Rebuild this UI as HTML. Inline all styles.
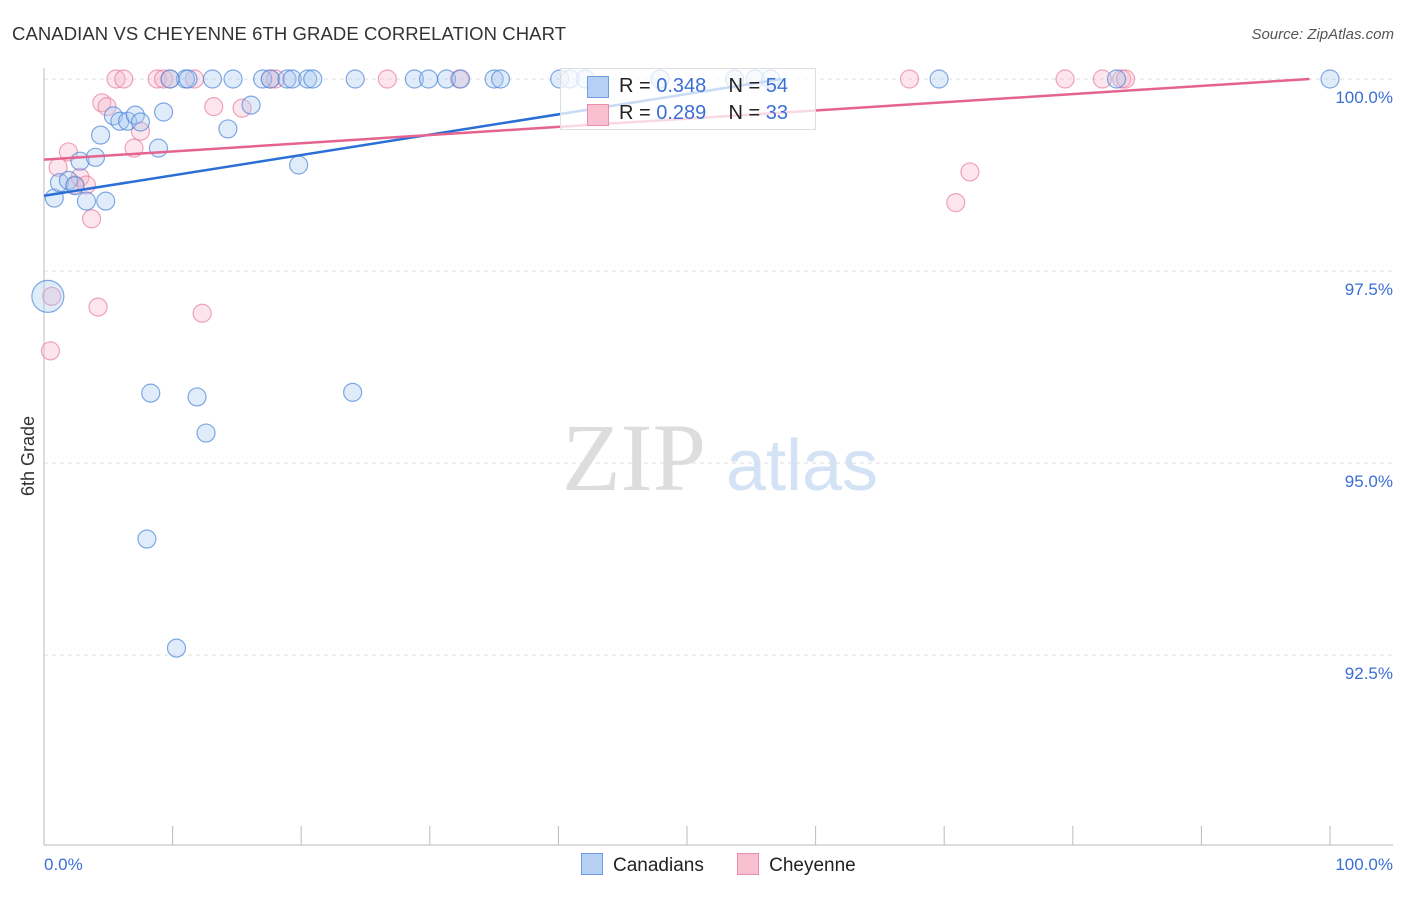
<!DOCTYPE html>
<html><head><meta charset="utf-8"><style>
body{margin:0;background:#fff;font-family:"Liberation Sans",sans-serif}
</style></head><body>
<svg id="c" width="1406" height="892" xmlns="http://www.w3.org/2000/svg">
<text x="12" y="40" font-size="18.5" fill="#333" textLength="554">CANADIAN VS CHEYENNE 6TH GRADE CORRELATION CHART</text>
<text x="1394" y="39" font-size="15" font-style="italic" fill="#555" text-anchor="end">Source: ZipAtlas.com</text>
<text x="634" y="490" font-size="96" font-family="Liberation Serif,serif" fill="#ddd" text-anchor="middle">ZIP</text>
<text x="802" y="490" font-size="72" fill="#d3e2f5" text-anchor="middle">atlas</text>
<text transform="translate(34,456) rotate(-90)" font-size="18" fill="#333" text-anchor="middle">6th Grade</text>
<g id="grid"></g><g id="marks"></g>
</svg>
<script>
const blueX=[0.8,1.2,1.9,2.8,3.3,4.0,4.4,4.8,5.4,5.9,6.5,7.1,7.5,9.3,8.9,8.3,11.9,12.6,8.0,10.3,14.3,16.1,19.8,24.0,0.3,11.0,11.2,13.1,14.7,17.0,17.6,18.9,19.3,20.5,20.9,24.2,28.8,29.9,31.3,32.4,35.0,35.5,40.1,40.9,42.1,47.9,53.7,55.3,56.5,69.6,83.4,100,9.8,2.4];
const blueY=[98.45,98.65,98.68,98.93,98.41,98.98,99.27,98.41,99.52,99.45,99.45,99.53,99.44,99.57,99.10,95.91,95.86,95.39,94.01,92.59,99.35,99.66,98.88,95.92,97.17,100,100,100,100,100,100,100,100,100,100,100,100,100,100,100,100,100,100,100,100,100,100,100,100,100,100,100,100,98.61];
const pinkX=[0.5,0.6,1.1,1.9,2.4,2.8,3.3,3.7,4.2,4.5,4.9,5.6,6.2,7.0,7.5,8.8,9.3,9.8,11.7,13.2,12.3,15.4,17.6,18.0,26.7,32.3,67.3,70.9,72.0,79.4,82.3,83.8,84.1];
const pinkY=[96.46,97.17,98.85,99.05,98.62,98.72,98.62,98.18,97.03,99.69,99.64,100,100,99.10,99.32,100,100,100,100,99.64,96.95,99.62,100,100,100,100,100,98.39,98.79,100,100,100,100];
const blueLine=[98.48,0.0265], pinkLine=[98.95,0.01067];
const yTicks=[100,97.5,95,92.5], yTickLabels=["100.0%","97.5%","95.0%","92.5%"];
const xAx=v=>44+v*12.86, yAx=v=>79+(100-v)*76.8;
const NS="http://www.w3.org/2000/svg";
function mk(t,a,p){const e=document.createElementNS(NS,t);for(const k in a)e.setAttribute(k,a[k]);p.appendChild(e);return e;}
const g=document.getElementById('grid'), m=document.getElementById('marks');
yTicks.forEach((t,i)=>{
 const l=mk('line',{x1:44,x2:1393,y1:yAx(t),y2:yAx(t),stroke:'#ddd','stroke-dasharray':'4,4'},g);
 
 
 const tx=mk('text',{x:1393,y:yAx(t)+24,'font-size':17,fill:'#3b6fd4','text-anchor':'end'},g);
 tx.textContent=yTickLabels[i];
 
 
});
const ax=mk('line',{x1:44,x2:44,y1:68,y2:845,stroke:'#bbb'},g);


const bx=mk('line',{x1:44,x2:1393,y1:845,y2:845,stroke:'#bbb'},g);


for(let i=0;i<=10;i++){const t=mk('line',{x1:xAx(i*10),x2:xAx(i*10),y1:826,y2:845,stroke:'#bbb'},g);
 
 }
[[0,"0.0%","start",44],[100,"100.0%","end",1393]].forEach(d=>{const t=mk('text',{x:d[3],y:870,'font-size':17,fill:'#3b6fd4','text-anchor':d[2]},g);t.textContent=d[1];
 
 });
function pts(X,Y,fill,stroke,name){X.forEach((x,i)=>{const big=(name==='canadian-point'&&i===24);
 const c=mk('circle',{cx:xAx(x),cy:yAx(Y[i]),r:big?16:9,fill:fill,'fill-opacity':0.35,stroke:stroke,'stroke-opacity':0.7,'stroke-width':1.2},m);
 
 });}
pts(pinkX,pinkY,'#f7b4c8','#e87fa0','cheyenne-point');
pts(blueX,blueY,'#a9c8f0','#4a86d8','canadian-point');
function line(L,col,name){const xe=Math.min(100,(100-L[0])/L[1]);
 const l=mk('line',{x1:xAx(0),y1:yAx(L[0]),x2:xAx(xe),y2:yAx(L[0]+L[1]*xe),stroke:col,'stroke-width':2.5},m);
 
 }
line(blueLine,'#2a6fd6','canadian-trendline');
line(pinkLine,'#e4648f','cheyenne-trendline');
</script>
<div style="position:absolute;left:560px;top:68px;width:256px;height:62px;background:rgba(255,255,255,.75);border:1px solid #ddd;box-sizing:border-box;font-size:20px;color:#222">
 <div style="position:absolute;left:26px;top:7px;width:20px;height:20px;background:#b5d0f3;border:1px solid #6f9fe0"></div>
 <div style="position:absolute;left:58px;top:6px">R = <span style="color:#3b6fd4">0.348</span>&nbsp;&nbsp;&nbsp; N = <span style="color:#3b6fd4">54</span></div>
 <div style="position:absolute;left:26px;top:35px;width:20px;height:20px;background:#f8c0d0;border:1px solid #e890ab"></div>
 <div style="position:absolute;left:58px;top:33px">R = <span style="color:#3b6fd4">0.289</span>&nbsp;&nbsp;&nbsp; N = <span style="color:#3b6fd4">33</span></div>
</div>
<div style="position:absolute;top:853px;left:581px;font-size:19px;color:#222;white-space:nowrap">
 <span><span style="display:inline-block;width:20px;height:20px;background:#b5d0f3;border:1px solid #6f9fe0;vertical-align:-4px;margin-right:10px"></span>Canadians</span>
 <span style="margin-left:28px"><span style="display:inline-block;width:20px;height:20px;background:#f8c0d0;border:1px solid #e890ab;vertical-align:-4px;margin-right:10px"></span>Cheyenne</span>
</div>
</body></html>
